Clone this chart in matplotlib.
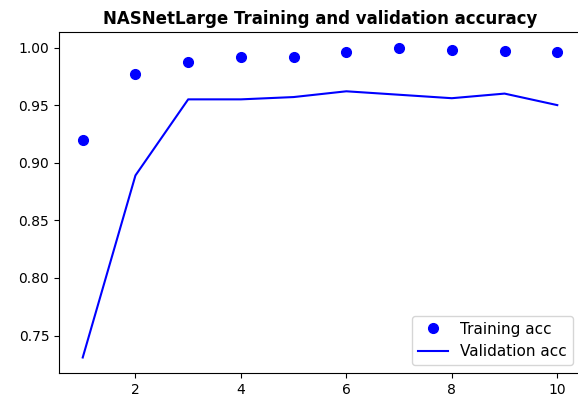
import matplotlib
matplotlib.use("Agg")
import matplotlib.pyplot as plt

epochs = [1, 2, 3, 4, 5, 6, 7, 8, 9, 10]
train_acc = [0.920, 0.977, 0.987, 0.992, 0.992, 0.996, 1.000, 0.998, 0.997, 0.9965]
val_acc = [0.731, 0.889, 0.955, 0.955, 0.957, 0.962, 0.959, 0.956, 0.960, 0.950]

fig = plt.figure(figsize=(5.78, 4.04), dpi=100)
ax = fig.add_axes([59/578, 31/404, 522/578, 341/404])
ax.plot(epochs, train_acc, 'bo', markersize=7, label='Training acc')
ax.plot(epochs, val_acc, 'b', linewidth=1.5, label='Validation acc')
ax.set_title('NASNetLarge Training and validation accuracy', fontsize=12, fontweight='bold')
ax.set_xticks([2, 4, 6, 8, 10])
ax.tick_params(labelsize=10)
ax.legend(loc='lower right', fontsize=11)
fig.savefig('out.png', dpi=100)
